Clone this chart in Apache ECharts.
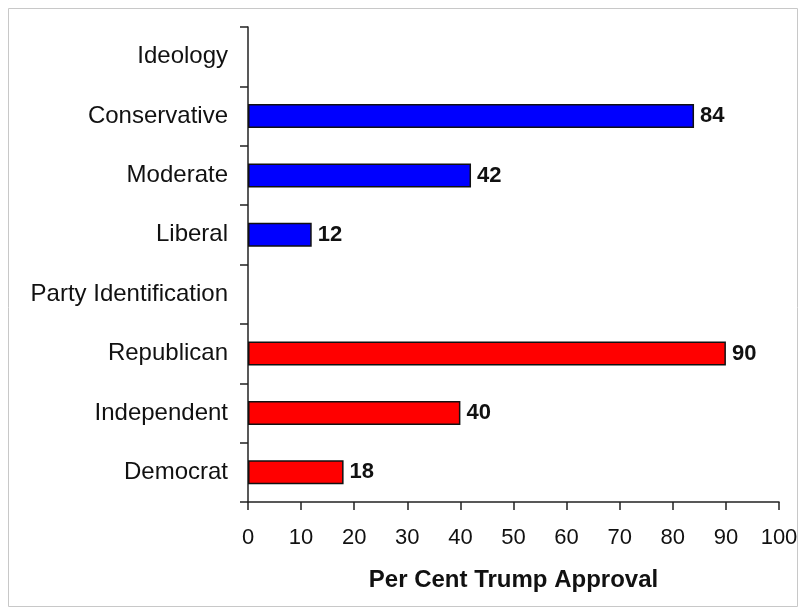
<!DOCTYPE html>
<html><head><meta charset="utf-8">
<script src="https://cdn.jsdelivr.net/npm/echarts@6/dist/echarts.min.js"></script>
<style>html,body{margin:0;padding:0;background:#fff}#c{width:806px;height:615px}</style>
</head><body><div id="c"></div>
<script>
const categories = ['Ideology','Conservative','Moderate','Liberal','Party Identification','Republican','Independent','Democrat'];
const ideologyValues = ['-', 84, 42, 12, '-', '-', '-', '-'];
const partyValues = ['-', '-', '-', '-', '-', 90, 40, 18];
const xTicks = [0,10,20,30,40,50,60,70,80,90,100];
const xTitle = 'Per Cent Trump Approval';

const chart = echarts.init(document.getElementById('c'), null, {renderer:'canvas'});
const font = 'Liberation Sans, Arial, sans-serif';
const lbl = {show:true, position:'right', distance:6, color:'#111', fontFamily:font, fontSize:22, fontWeight:'bold'};
chart.setOption({
  animation:false,
  backgroundColor:'#fff',
  graphic:[{type:'rect', shape:{x:8.5,y:8.5,width:789,height:598}, style:{fill:'none', stroke:'#c8c8c8', lineWidth:1}, silent:true}],
  grid:{left:248, right:27, top:27, bottom:113, containLabel:false},
  xAxis:{type:'value', min:0, max:100, interval:10,
    axisLine:{show:true, lineStyle:{color:'#222', width:1.5}},
    axisTick:{show:true, inside:false, length:8, lineStyle:{color:'#222', width:1.5}},
    splitLine:{show:false},
    axisLabel:{color:'#111', fontFamily:font, fontSize:22, margin:25, formatter:v=>xTicks.includes(v)?String(v):''},
    name:xTitle, nameLocation:'middle', nameGap:66,
    nameTextStyle:{color:'#111', fontFamily:font, fontSize:24, fontWeight:'bold'}},
  yAxis:{type:'category', data:categories, inverse:true,
    axisLine:{show:true, lineStyle:{color:'#222', width:1.5}},
    axisTick:{show:true, inside:false, length:8, alignWithLabel:false, lineStyle:{color:'#222', width:1.5}},
    axisLabel:{color:'#111', fontFamily:font, fontSize:24, margin:20}},
  series:[
    {name:'Ideology', type:'bar', data:ideologyValues, barWidth:24, barGap:'-100%',
     itemStyle:{color:'#0000ff', borderColor:'#111', borderWidth:1.5}, label:lbl},
    {name:'Party Identification', type:'bar', data:partyValues, barWidth:24, barGap:'-100%',
     itemStyle:{color:'#ff0000', borderColor:'#111', borderWidth:1.5}, label:lbl}
  ]
});
</script></body></html>
